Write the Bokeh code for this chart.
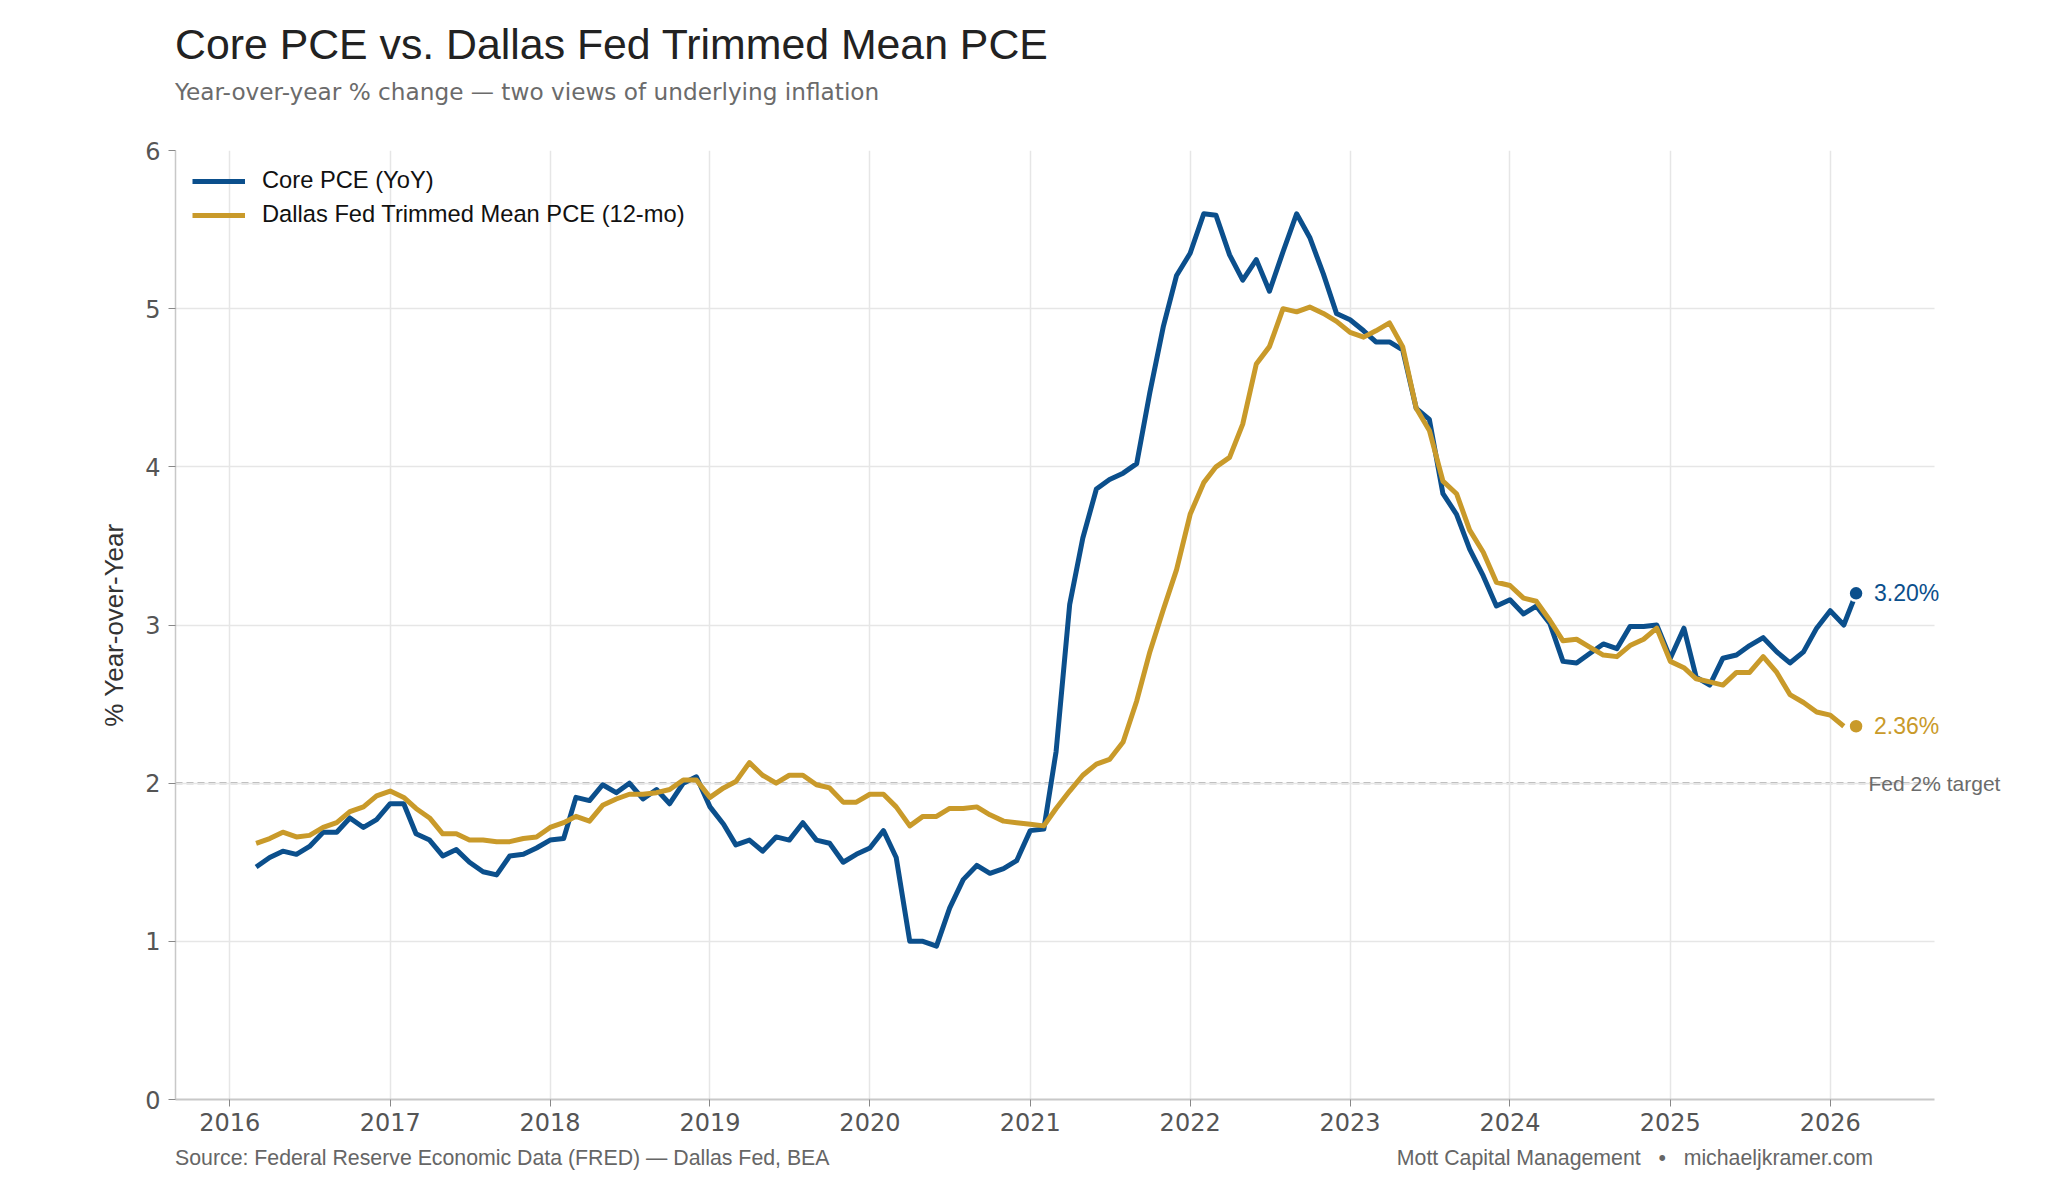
import pandas as pd
from bokeh.plotting import figure
from bokeh.layouts import column
from bokeh.models import (Range1d, FixedTicker, Label, Legend, LegendItem, Grid, Div,
                          ColumnDataSource, DatetimeTickFormatter)
from bokeh.embed import file_html
from bokeh.resources import INLINE

# ---------------- data ----------------
start_month = "2016-03-01"
core_pce = [
    1.47, 1.53, 1.57, 1.55, 1.60, 1.69, 1.69, 1.78, 1.72, 1.77,   # 2016-03 .. 2016-12
    1.87, 1.87, 1.68, 1.64, 1.54, 1.58, 1.50, 1.44, 1.42, 1.54, 1.55, 1.59,  # 2017
    1.64, 1.65, 1.91, 1.89, 1.99, 1.94, 2.00, 1.90, 1.96, 1.87, 2.00, 2.04,  # 2018
    1.85, 1.74, 1.61, 1.64, 1.57, 1.66, 1.64, 1.75, 1.64, 1.62, 1.50, 1.55,  # 2019
    1.59, 1.70, 1.53, 1.00, 1.00, 0.97, 1.21, 1.39, 1.48, 1.43, 1.46, 1.51,  # 2020
    1.70, 1.71, 2.20, 3.13, 3.55, 3.86, 3.92, 3.96, 4.02, 4.47, 4.89, 5.21,  # 2021
    5.35, 5.60, 5.59, 5.34, 5.18, 5.31, 5.11, 5.36, 5.60, 5.45, 5.22, 4.97,  # 2022
    4.93, 4.86, 4.79, 4.79, 4.74, 4.37, 4.30, 3.83, 3.70, 3.48, 3.31, 3.12,  # 2023
    3.16, 3.07, 3.12, 3.01, 2.77, 2.76, 2.82, 2.88, 2.85, 2.99, 2.99, 3.00,  # 2024
    2.79, 2.98, 2.67, 2.62, 2.79, 2.81, 2.87, 2.92, 2.83, 2.76, 2.83, 2.98,  # 2025
    3.09, 3.00, 3.20,                                                      # 2026
]
trimmed_mean = [
    1.62, 1.65, 1.69, 1.66, 1.67, 1.72, 1.75, 1.82, 1.85, 1.92,   # 2016-03 .. 2016-12
    1.95, 1.91, 1.84, 1.78, 1.68, 1.68, 1.64, 1.64, 1.63, 1.63, 1.65, 1.66,  # 2017
    1.72, 1.75, 1.79, 1.76, 1.86, 1.90, 1.93, 1.93, 1.94, 1.96, 2.02, 2.02,  # 2018
    1.91, 1.97, 2.01, 2.13, 2.05, 2.00, 2.05, 2.05, 1.99, 1.97, 1.88, 1.88,  # 2019
    1.93, 1.93, 1.85, 1.73, 1.79, 1.79, 1.84, 1.84, 1.85, 1.80, 1.76, 1.75,  # 2020
    1.74, 1.73, 1.84, 1.95, 2.05, 2.12, 2.15, 2.26, 2.52, 2.83, 3.10, 3.35,  # 2021
    3.70, 3.90, 4.00, 4.06, 4.27, 4.65, 4.76, 5.00, 4.98, 5.01, 4.97, 4.92,  # 2022
    4.85, 4.82, 4.86, 4.91, 4.76, 4.37, 4.23, 3.91, 3.83, 3.60, 3.46, 3.27,  # 2023
    3.25, 3.17, 3.15, 3.03, 2.90, 2.91, 2.86, 2.81, 2.80, 2.87, 2.91, 2.98,  # 2024
    2.77, 2.73, 2.66, 2.64, 2.62, 2.70, 2.70, 2.80, 2.70, 2.56, 2.51, 2.45,  # 2025
    2.43, 2.36,                                                            # 2026
]
year_ticks = list(range(2016, 2027))
y_ticks = [0, 1, 2, 3, 4, 5, 6]
fed_target = 2.0

series_names = ["Core PCE (YoY)", "Dallas Fed Trimmed Mean PCE (12-mo)"]
title_text = "Core PCE vs. Dallas Fed Trimmed Mean PCE"
subtitle_text = "Year-over-year % change \u2014 two views of underlying inflation"
source_text = "Source: Federal Reserve Economic Data (FRED) \u2014 Dallas Fed, BEA"
credit_text = ("Mott Capital Management&nbsp;&nbsp;&nbsp;\u2022&nbsp;&nbsp;&nbsp;"
               "michaeljkramer.com")
BLUE = "#0b4f8c"
GOLD = "#c99a2a"

core_dates = pd.date_range(start_month, periods=len(core_pce), freq="MS")
trim_dates = pd.date_range(start_month, periods=len(trimmed_mean), freq="MS")
last_date = core_dates[-1]

# ---------------- layout (pixels) ----------------
W, H = 2048, 1195
TOP_H = 120            # header block
BOT_H = 50             # footer block
FIG_H = H - TOP_H - BOT_H
L, R_VIS, R_FRAME = 175, 1934, 2040     # plot area left / visual right / frame right
T, B = 150 - TOP_H, 1099 - TOP_H        # frame top / bottom inside the figure
x0 = pd.Timestamp("2015-08-30")
x1 = pd.Timestamp("2026-08-27")


def ms(ts):
    return ts.value / 1e6


ms_per_px = (ms(x1) - ms(x0)) / (R_VIS - L)
x_end_frame = ms(x1) + (R_FRAME - R_VIS) * ms_per_px


def px_to_x(px):
    return ms(x0) + (px - L) * ms_per_px


p = figure(width=W, height=FIG_H, x_axis_type="datetime",
           x_range=Range1d(ms(x0), x_end_frame), y_range=Range1d(0, 6),
           toolbar_location=None, output_backend="svg",
           min_border_left=L, min_border_right=W - R_FRAME,
           min_border_top=T, min_border_bottom=FIG_H - B, margin=0)
p.title.text = ""
p.outline_line_color = None
p.background_fill_color = "white"
p.border_fill_color = "white"

# grids
p.xgrid.grid_line_color = "#e6e6e6"
p.xgrid.grid_line_width = 1.5
p.ygrid.grid_line_color = "#e6e6e6"
p.ygrid.grid_line_width = 1.5
p.ygrid.ticker = FixedTicker(ticks=y_ticks)
if "cross_bounds" in Grid.properties():
    p.ygrid.cross_bounds = (ms(x0), ms(x1))
else:
    p.ygrid.visible = False
    p.segment(x0=[ms(x0)] * len(y_ticks), x1=[ms(x1)] * len(y_ticks), y0=y_ticks,
              y1=y_ticks, line_color="#e6e6e6", line_width=1.5, level="underlay")

# axes
tick_ms = [ms(pd.Timestamp(f"{y}-01-01")) for y in year_ticks]
p.xaxis.ticker = FixedTicker(ticks=tick_ms)
p.xaxis.formatter = DatetimeTickFormatter(years="%Y", months="%Y", days="%Y",
                                          hours="%Y", minutes="%Y", seconds="%Y")
p.xaxis.bounds = (ms(x0), ms(x1))
p.yaxis.ticker = FixedTicker(ticks=y_ticks)
for ax in (p.xaxis, p.yaxis):
    ax.axis_line_color = "#c8c8c8"
    ax.major_tick_line_color = "#888888"
    ax.major_tick_in = 0
    ax.major_tick_out = 7
    ax.minor_tick_line_color = None
    ax.major_label_text_font = "DejaVu Sans"
    ax.major_label_text_font_size = "24px"
    ax.major_label_text_color = "#555555"
p.xaxis.axis_line_width = 2
p.yaxis.axis_line_width = 1.5
p.xaxis.major_label_standoff = 6
p.yaxis.major_label_standoff = 8
p.yaxis.axis_label = "% Year-over-Year"
p.yaxis.axis_label_text_font = "Liberation Sans"
p.yaxis.axis_label_text_font_size = "26px"
p.yaxis.axis_label_text_font_style = "normal"
p.yaxis.axis_label_text_color = "#333333"
p.yaxis.axis_label_standoff = 13

# Fed target line (limited to the visible plot area)
p.segment(x0=[ms(x0)], x1=[ms(x1)], y0=[fed_target], y1=[fed_target],
          line_color="#9a9a9a", line_width=2, line_dash="7 4", level="underlay")

# series
src_core = ColumnDataSource(dict(x=core_dates, y=core_pce))
src_trim = ColumnDataSource(dict(x=trim_dates, y=trimmed_mean))
r_core = p.line("x", "y", source=src_core, line_color=BLUE, line_width=5,
                line_join="round")
r_trim = p.line("x", "y", source=src_trim, line_color=GOLD, line_width=5,
                line_join="round")

# end dots and labels
end_src = ColumnDataSource(dict(x=[last_date, last_date],
                                y=[core_pce[-1], trimmed_mean[-1]],
                                c=[BLUE, GOLD]))
p.scatter("x", "y", source=end_src, size=15, fill_color="c", line_color="white",
          line_width=2.5)
for val, col in ((core_pce[-1], BLUE), (trimmed_mean[-1], GOLD)):
    p.add_layout(Label(x=ms(last_date), y=val, x_offset=18, text=f"{val:.2f}%",
                       text_baseline="middle", text_align="left",
                       text_font="Liberation Sans", text_font_size="23px",
                       text_color=col))

p.add_layout(Label(x=px_to_x(1868), y=fed_target, text="Fed 2% target",
                   text_baseline="middle", text_align="left",
                   text_font="Liberation Sans", text_font_size="21px",
                   text_color="#6b6b6b"))

# legend
legend = Legend(items=[LegendItem(label=series_names[0], renderers=[r_core]),
                       LegendItem(label=series_names[1], renderers=[r_trim])],
                location="top_left")
legend.margin = 7
legend.padding = 10
legend.spacing = 7
legend.glyph_width = 53
legend.label_standoff = 17
legend.label_text_font = "Liberation Sans"
legend.label_text_font_size = "23.7px"
legend.label_text_color = "#111111"
legend.background_fill_alpha = 0
legend.border_line_alpha = 0
p.add_layout(legend)

# header / footer blocks
def abs_text(text, left, top, font, size, color, align="left"):
    pos = f"left:{left}px;" if align == "left" else f"right:{W - left}px;"
    return (f'<div style="position:absolute;{pos}top:{top}px;font-family:\'{font}\';'
            f'font-size:{size}px;line-height:1;color:{color};white-space:nowrap;">{text}</div>')

header_html = ('<div style="position:relative;width:%dpx;height:%dpx;">' % (W, TOP_H)
               + abs_text(title_text, L, 22.8, "Liberation Sans", 42.8, "#222222")
               + abs_text(subtitle_text, L, 80, "DejaVu Sans", 23.2, "#6b6b6b")
               + '</div>')
footer_top = TOP_H + FIG_H
footer_html = ('<div style="position:relative;width:%dpx;height:%dpx;">' % (W, BOT_H)
               + abs_text(source_text, L, 1147.5 - footer_top, "Liberation Sans", 21.3, "#666666")
               + abs_text(credit_text, 1873, 1147.5 - footer_top, "Liberation Sans", 21.3,
                          "#666666", align="right")
               + '</div>')
header = Div(text=header_html, width=W, height=TOP_H, margin=0)
footer = Div(text=footer_html, width=W, height=BOT_H, margin=0)

layout = column(header, p, footer, spacing=0, margin=0)
open("out.html", "w").write(file_html(layout, INLINE))
